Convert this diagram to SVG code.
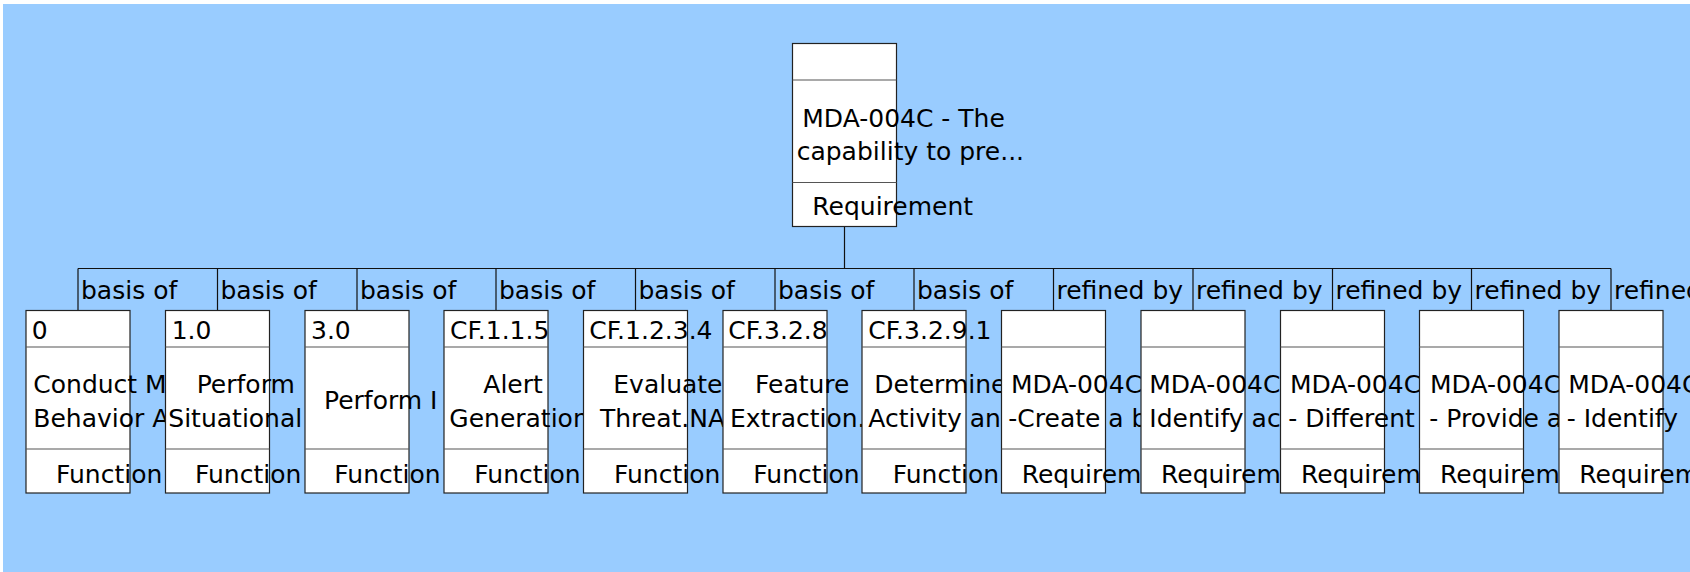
<svg xmlns="http://www.w3.org/2000/svg" width="1690" height="572" viewBox="0 0 1690 572">
<style>
.bg{fill:#99CCFF}
.box{fill:#FFFFFF;stroke:#222;stroke-width:1.2}
.div{stroke:#555;stroke-width:1.2}
.conn{stroke:#111;stroke-width:1.2;fill:none}
text{font-family:"DejaVu Sans","Verdana",sans-serif;font-size:25px;fill:#000}
</style>
<rect x="0" y="0" width="1690" height="572" fill="#FFFFFF"/>
<rect class="bg" x="3" y="4" width="1687" height="568"/>
<g id="connectors">
<line class="conn" x1="844.5" y1="226.5" x2="844.5" y2="268.5"/>
<line class="conn" x1="78" y1="268.5" x2="1611" y2="268.5"/>
<line class="conn" x1="78" y1="268.5" x2="78" y2="310.5"/>
<line class="conn" x1="217.5" y1="268.5" x2="217.5" y2="310.5"/>
<line class="conn" x1="357" y1="268.5" x2="357" y2="310.5"/>
<line class="conn" x1="496" y1="268.5" x2="496" y2="310.5"/>
<line class="conn" x1="635.5" y1="268.5" x2="635.5" y2="310.5"/>
<line class="conn" x1="775" y1="268.5" x2="775" y2="310.5"/>
<line class="conn" x1="914" y1="268.5" x2="914" y2="310.5"/>
<line class="conn" x1="1053.5" y1="268.5" x2="1053.5" y2="310.5"/>
<line class="conn" x1="1193" y1="268.5" x2="1193" y2="310.5"/>
<line class="conn" x1="1332.5" y1="268.5" x2="1332.5" y2="310.5"/>
<line class="conn" x1="1471.5" y1="268.5" x2="1471.5" y2="310.5"/>
<line class="conn" x1="1611" y1="268.5" x2="1611" y2="310.5"/>
<text x="81" y="299.3">basis of</text>
<text x="220.5" y="299.3">basis of</text>
<text x="360" y="299.3">basis of</text>
<text x="499" y="299.3">basis of</text>
<text x="638.5" y="299.3">basis of</text>
<text x="778" y="299.3">basis of</text>
<text x="917" y="299.3">basis of</text>
<text x="1056.5" y="299.3">refined by</text>
<text x="1196" y="299.3">refined by</text>
<text x="1335.5" y="299.3">refined by</text>
<text x="1474.5" y="299.3">refined by</text>
<text x="1614" y="299.3">refined by</text>
</g>
<g id="req-top">
<rect class="box" x="792.5" y="43.5" width="104" height="183"/>
<line class="div" x1="792.5" y1="80" x2="896.5" y2="80"/>
<line class="div" x1="792.5" y1="182.5" x2="896.5" y2="182.5"/>
<text x="802.3" y="126.7">MDA-004C - The</text>
<text x="796.7" y="159.5">capability to pre...</text>
<text x="812.3" y="215">Requirement</text>
</g>
<g id="n0">
<rect class="box" x="26" y="310.5" width="104" height="182.5"/>
<line class="div" x1="26" y1="347" x2="130" y2="347"/>
<line class="div" x1="26" y1="449" x2="130" y2="449"/>
<text x="31.7" y="339.3">0</text>
<text x="33.3" y="393.3">Conduct M</text>
<text x="33.3" y="426.7">Behavior A</text>
<text x="56" y="482.7">Function</text>
</g>
<g id="n1">
<rect class="box" x="165.5" y="310.5" width="104" height="182.5"/>
<line class="div" x1="165.5" y1="347" x2="269.5" y2="347"/>
<line class="div" x1="165.5" y1="449" x2="269.5" y2="449"/>
<text x="171.7" y="339.3">1.0</text>
<text x="196.7" y="393.3">Perform</text>
<text x="168.3" y="426.7">Situational</text>
<text x="195" y="482.7">Function</text>
</g>
<g id="n2">
<rect class="box" x="305" y="310.5" width="104" height="182.5"/>
<line class="div" x1="305" y1="347" x2="409" y2="347"/>
<line class="div" x1="305" y1="449" x2="409" y2="449"/>
<text x="311" y="339.3">3.0</text>
<text x="324" y="409">Perform I</text>
<text x="334.3" y="482.7">Function</text>
</g>
<g id="n3">
<rect class="box" x="444" y="310.5" width="104" height="182.5"/>
<line class="div" x1="444" y1="347" x2="548" y2="347"/>
<line class="div" x1="444" y1="449" x2="548" y2="449"/>
<text x="450" y="339.3">CF.1.1.5</text>
<text x="483.3" y="393.3">Alert</text>
<text x="449.3" y="426.7">Generation</text>
<text x="474.3" y="482.7">Function</text>
</g>
<g id="n4">
<rect class="box" x="583.5" y="310.5" width="104" height="182.5"/>
<line class="div" x1="583.5" y1="347" x2="687.5" y2="347"/>
<line class="div" x1="583.5" y1="449" x2="687.5" y2="449"/>
<text x="589.3" y="339.3">CF.1.2.3.4</text>
<text x="613.3" y="393.3">Evaluate</text>
<text x="600" y="426.7">Threat.NA</text>
<text x="614" y="482.7">Function</text>
</g>
<g id="n5">
<rect class="box" x="723" y="310.5" width="104" height="182.5"/>
<line class="div" x1="723" y1="347" x2="827" y2="347"/>
<line class="div" x1="723" y1="449" x2="827" y2="449"/>
<text x="728.3" y="339.3">CF.3.2.8</text>
<text x="755" y="393.3">Feature</text>
<text x="730" y="426.7">Extraction.</text>
<text x="753.3" y="482.7">Function</text>
</g>
<g id="n6">
<rect class="box" x="862" y="310.5" width="104" height="182.5"/>
<line class="div" x1="862" y1="347" x2="966" y2="347"/>
<line class="div" x1="862" y1="449" x2="966" y2="449"/>
<text x="868.3" y="339.3">CF.3.2.9.1</text>
<text x="874.3" y="393.3">Determine</text>
<text x="868.3" y="426.7">Activity an</text>
<text x="892.7" y="482.7">Function</text>
</g>
<g id="n7">
<rect class="box" x="1001.5" y="310.5" width="104" height="182.5"/>
<line class="div" x1="1001.5" y1="347" x2="1105.5" y2="347"/>
<line class="div" x1="1001.5" y1="449" x2="1105.5" y2="449"/>
<text x="1011" y="393.3">MDA-004C</text>
<text x="1008.3" y="426.7">-Create a b</text>
<text x="1021.7" y="482.7">Requirem</text>
</g>
<g id="n8">
<rect class="box" x="1141" y="310.5" width="104" height="182.5"/>
<line class="div" x1="1141" y1="347" x2="1245" y2="347"/>
<line class="div" x1="1141" y1="449" x2="1245" y2="449"/>
<text x="1149.3" y="393.3">MDA-004C</text>
<text x="1149.3" y="426.7">Identify ac</text>
<text x="1161" y="482.7">Requirem</text>
</g>
<g id="n9">
<rect class="box" x="1280.5" y="310.5" width="104" height="182.5"/>
<line class="div" x1="1280.5" y1="347" x2="1384.5" y2="347"/>
<line class="div" x1="1280.5" y1="449" x2="1384.5" y2="449"/>
<text x="1290" y="393.3">MDA-004C</text>
<text x="1288.3" y="426.7">- Different</text>
<text x="1301" y="482.7">Requirem</text>
</g>
<g id="n10">
<rect class="box" x="1419.5" y="310.5" width="104" height="182.5"/>
<line class="div" x1="1419.5" y1="347" x2="1523.5" y2="347"/>
<line class="div" x1="1419.5" y1="449" x2="1523.5" y2="449"/>
<text x="1430" y="393.3">MDA-004C</text>
<text x="1429.3" y="426.7">- Provide a</text>
<text x="1440" y="482.7">Requirem</text>
</g>
<g id="n11">
<rect class="box" x="1559" y="310.5" width="104" height="182.5"/>
<line class="div" x1="1559" y1="347" x2="1663" y2="347"/>
<line class="div" x1="1559" y1="449" x2="1663" y2="449"/>
<text x="1568.3" y="393.3">MDA-004C</text>
<text x="1566.7" y="426.7">- Identify</text>
<text x="1579.3" y="482.7">Requirem</text>
</g>
</svg>
